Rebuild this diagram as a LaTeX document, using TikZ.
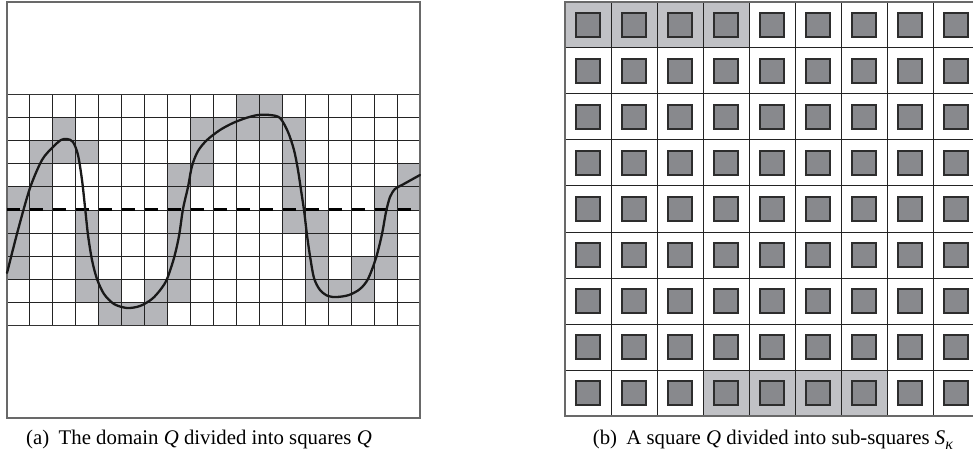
\documentclass[tikz,border=0pt]{standalone}
\usepackage{fontspec}
\setmainfont{Liberation Serif}
\definecolor{shadeL}{RGB}{181,182,186}
\definecolor{shadeR}{RGB}{192,193,197}
\definecolor{innerfill}{RGB}{136,137,141}
\definecolor{innerline}{RGB}{45,45,45}
\definecolor{framecol}{RGB}{105,105,105}
\definecolor{gridcol}{RGB}{35,35,35}
\begin{document}
\begin{tikzpicture}[x=1pt,y=-1pt,
  framebox/.style={draw=framecol,line width=1.6pt},
  gridline/.style={draw=gridcol,line width=0.9pt},
  bandline/.style={draw=black!80,line width=1.5pt},
  midline/.style={draw=black,line width=3pt,dash pattern=on 13pt off 10pt},
  curveline/.style={draw=black!90,line width=2.3pt,line join=round,line cap=round},
  innersq/.style={fill=innerfill,draw=innerline,line width=1.1pt},
  captext/.style={anchor=base,inner sep=0pt,font=\fontsize{20.8}{23}\selectfont}]
\useasboundingbox (0,0) rectangle (973,462);
\begin{scope}
\clip (0,0) rectangle (973,462);
% ---------------- left panel ----------------
\foreach \c/\r in {10/0,11/0, 2/1,8/1,9/1,10/1,11/1,12/1, 1/2,2/2,3/2,8/2,12/2,
  1/3,7/3,8/3,12/3,17/3, 0/4,1/4,7/4,12/4,16/4,17/4, 0/5,3/5,7/5,12/5,13/5,16/5,
  0/6,3/6,7/6,13/6,16/6, 0/7,3/7,7/7,13/7,15/7,16/7, 3/8,4/8,6/8,7/8,13/8,14/8,15/8,
  4/9,5/9,6/9}
  \fill[shadeL] ({7+\c*22.944},{94.3+\r*23.14}) rectangle ++(22.944,23.14);
\foreach \c in {1,...,17}
  \draw[gridline] ({7+\c*22.944},94.3) -- ({7+\c*22.944},325.7);
\foreach \r in {1,...,9}
  \draw[gridline] (7,{94.3+\r*23.14}) -- (420,{94.3+\r*23.14});
\draw[bandline] (7,94.3) -- (420,94.3);
\draw[bandline] (7,325.7) -- (420,325.7);
\draw[framebox] (7,2) rectangle (420,418);
\draw[midline] (7,210) -- (420,210);
\draw[curveline] plot[smooth,tension=0.5] coordinates {
 (7,273) (18,230) (30,188) (42,160) (53,147) (61,140) (67,139) (73,142) (78,155)
 (82,180) (85,207) (88,235) (92,260) (97,279) (104,294) (114,304) (127,308)
 (140,306) (152,299) (161,289) (167,279) (174,258) (179,236) (183,209) (188,187)
 (192,166) (198,151) (207,140) (220,130) (233,123) (246,118) (258,115) (270,115)
 (280,118) (288,132) (294,150) (298,170) (301,190) (304,210) (307,235) (310,256)
 (314,278) (320,290) (328,296) (337,297) (349,295) (360,289) (368,279) (376,258)
 (382,234) (386,212) (390,197) (395,189) (402,185) (411,180) (420,175)};
% ---------------- right panel ----------------
\foreach \c in {0,...,3}
  \fill[shadeR] ({565+\c*46},2) rectangle ++(46,46);
\foreach \c in {3,...,6}
  \fill[shadeR] ({565+\c*46},370) rectangle ++(46,46);
\foreach \c in {1,...,8}
  \draw[gridline,line width=1pt] ({565+\c*46},2) -- ({565+\c*46},416);
\foreach \r in {1,...,8}
  \draw[gridline,line width=1pt] (565,{2+\r*46}) -- (979,{2+\r*46});
\draw[framebox] (565,2) rectangle (979,416);
\foreach \c in {0,...,8}
  \foreach \r in {0,...,8}
    \draw[innersq] ({565+\c*46+11},{2+\r*46+11}) rectangle ++(24,24);
\end{scope}
% ---------------- captions ----------------
\node[captext] (capA) at (199,444) {(a)\hspace{0.45em}The domain \textit{Q} divided into squares \textit{Q}};
\node[captext] (capB) at (773,444) {(b)\hspace{0.45em}A square \textit{Q} divided into sub-squares \textit{S}\raisebox{-0.25em}{\fontsize{16}{18}\selectfont\textit{κ}}};
\end{tikzpicture}
\end{document}
